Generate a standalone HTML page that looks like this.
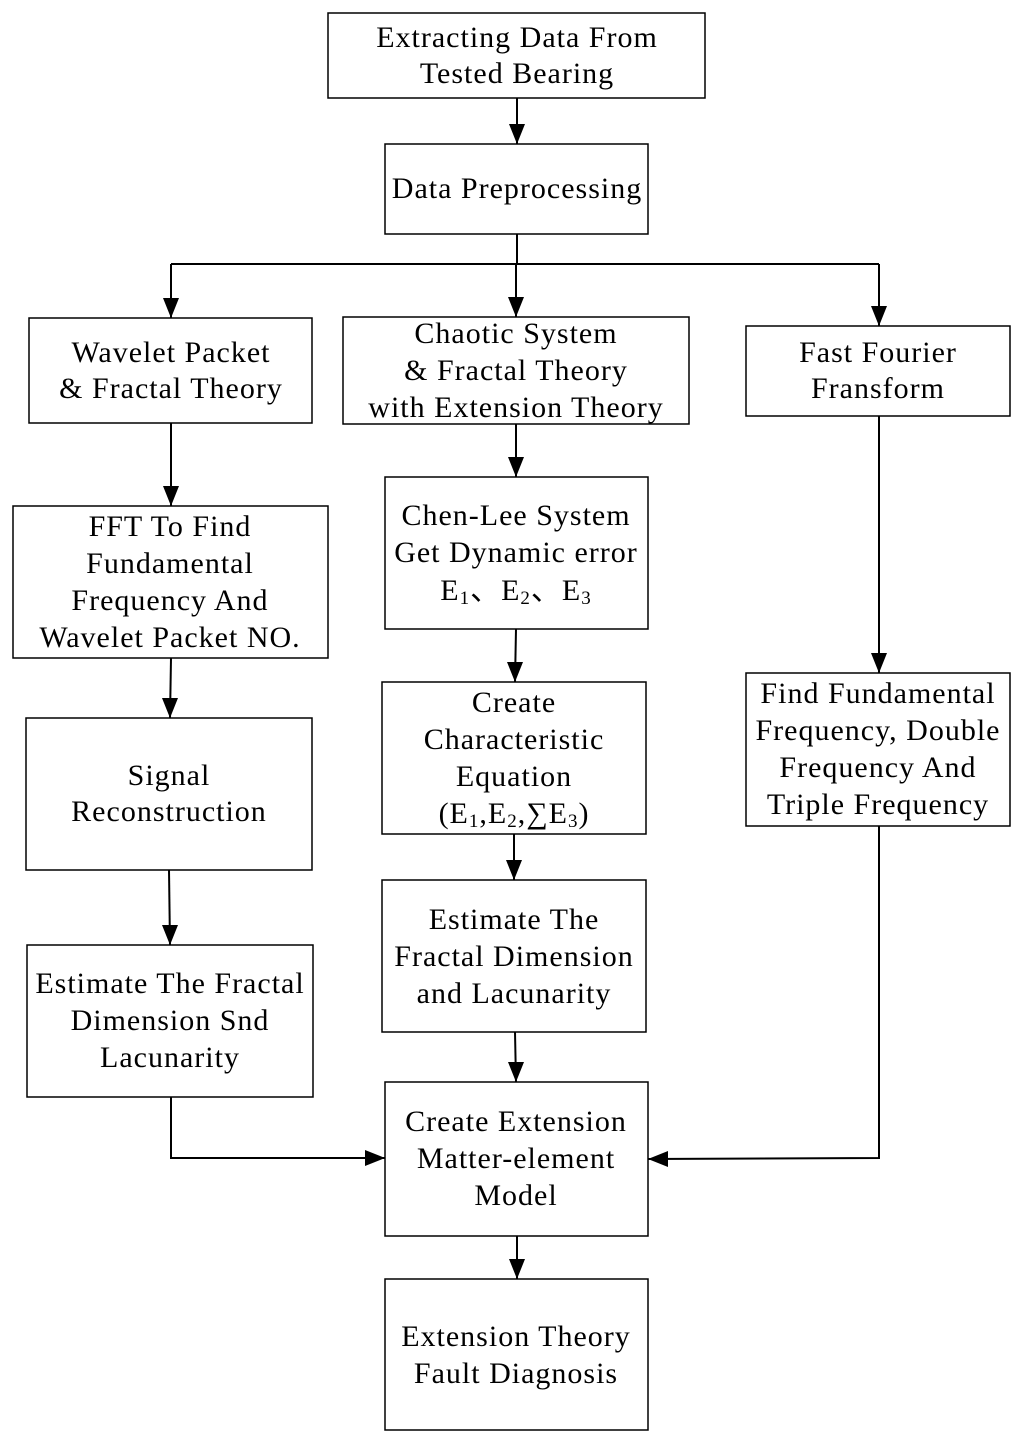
<!DOCTYPE html>
<html><head><style>html,body{margin:0;padding:0;background:#fff}svg{display:block}</style></head>
<body>
<svg width="1024" height="1445" viewBox="0 0 1024 1445" xmlns="http://www.w3.org/2000/svg">
<defs>
<marker id="r" markerWidth="20" markerHeight="16" refX="20" refY="8" orient="0" markerUnits="userSpaceOnUse"><path d="M0,0 L20,8 L0,16 Z" fill="#000"/></marker>
<marker id="l" markerWidth="20" markerHeight="16" refX="0" refY="8" orient="0" markerUnits="userSpaceOnUse"><path d="M20,0 L0,8 L20,16 Z" fill="#000"/></marker>
<marker id="d" markerWidth="16" markerHeight="20" refX="8" refY="20" orient="0" markerUnits="userSpaceOnUse"><path d="M0,0 L16,0 L8,20 Z" fill="#000"/></marker></defs>
<g fill="none" stroke="#000" stroke-width="1.5">
<rect x="328" y="13" width="377" height="85"/>
<rect x="385" y="144" width="263" height="90"/>
<rect x="29" y="318" width="283" height="105"/>
<rect x="343" y="317" width="346" height="107"/>
<rect x="746" y="326" width="264" height="90"/>
<rect x="13" y="506" width="315" height="152"/>
<rect x="385" y="477" width="263" height="152"/>
<rect x="26" y="718" width="286" height="152"/>
<rect x="382" y="682" width="264" height="152"/>
<rect x="746" y="673" width="264" height="153"/>
<rect x="27" y="945" width="286" height="152"/>
<rect x="382" y="880" width="264" height="152"/>
<rect x="385" y="1082" width="263" height="154"/>
<rect x="385" y="1279" width="263" height="151"/>
</g>
<g fill="none" stroke="#000" stroke-width="2">
<path d="M517 98V144" marker-end="url(#d)"/>
<path d="M517 234V264"/>
<path d="M171 264H879"/>
<path d="M171 264V318" marker-end="url(#d)"/>
<path d="M516 264V317" marker-end="url(#d)"/>
<path d="M879 264V326" marker-end="url(#d)"/>
<path d="M171 423V506" marker-end="url(#d)"/>
<path d="M516 424V477" marker-end="url(#d)"/>
<path d="M879 416V673" marker-end="url(#d)"/>
<path d="M171 658L170 718" marker-end="url(#d)"/>
<path d="M516 629L515 682" marker-end="url(#d)"/>
<path d="M169 870L170 945" marker-end="url(#d)"/>
<path d="M514 834V880" marker-end="url(#d)"/>
<path d="M515 1032L516 1082" marker-end="url(#d)"/>
<path d="M171 1097V1158H385" marker-end="url(#r)"/>
<path d="M879 826V1158L648 1159" marker-end="url(#l)"/>
<path d="M517 1236V1279" marker-end="url(#d)"/>
</g>
<g font-family="Liberation Serif, serif" font-size="30" letter-spacing="1" text-anchor="middle" fill="#000">
<text x="517" y="47">Extracting  Data From</text>
<text x="517" y="83">Tested Bearing</text>
<text x="517" y="198">Data Preprocessing</text>
<text x="171" y="362">Wavelet Packet</text>
<text x="171" y="398">&amp; Fractal Theory</text>
<text x="516" y="343">Chaotic System</text>
<text x="516" y="380">&amp; Fractal Theory</text>
<text x="516" y="417">with Extension Theory</text>
<text x="878" y="362">Fast Fourier</text>
<text x="878" y="398">Fransform</text>
<text x="170" y="536">FFT To Find</text>
<text x="170" y="573">Fundamental</text>
<text x="170" y="610">Frequency And</text>
<text x="170" y="647">Wavelet Packet NO.</text>
<text x="516" y="525">Chen-Lee System</text>
<text x="516" y="562">Get Dynamic error</text>
<text x="516" y="600">E<tspan font-size="19" dy="4">1</tspan><tspan dy="-4">、E</tspan><tspan font-size="19" dy="4">2</tspan><tspan dy="-4">、E</tspan><tspan font-size="19" dy="4">3</tspan></text>
<text x="169" y="785">Signal</text>
<text x="169" y="821">Reconstruction</text>
<text x="514" y="712">Create</text>
<text x="514" y="749">Characteristic</text>
<text x="514" y="786">Equation</text>
<text x="514" y="823">(E<tspan font-size="19" dy="4">1</tspan><tspan dy="-4">,E</tspan><tspan font-size="19" dy="4">2</tspan><tspan dy="-4">,∑E</tspan><tspan font-size="19" dy="4">3</tspan><tspan dy="-4">)</tspan></text>
<text x="878" y="703">Find Fundamental</text>
<text x="878" y="740">Frequency, Double</text>
<text x="878" y="777">Frequency And</text>
<text x="878" y="814">Triple Frequency</text>
<text x="170" y="993">Estimate The Fractal</text>
<text x="170" y="1030">Dimension Snd</text>
<text x="170" y="1067">Lacunarity</text>
<text x="514" y="929">Estimate The</text>
<text x="514" y="966">Fractal Dimension</text>
<text x="514" y="1003">and Lacunarity</text>
<text x="516" y="1131">Create Extension</text>
<text x="516" y="1168">Matter-element</text>
<text x="516" y="1205">Model</text>
<text x="516" y="1346">Extension Theory</text>
<text x="516" y="1383">Fault Diagnosis</text>
</g>
</svg>
</body></html>
